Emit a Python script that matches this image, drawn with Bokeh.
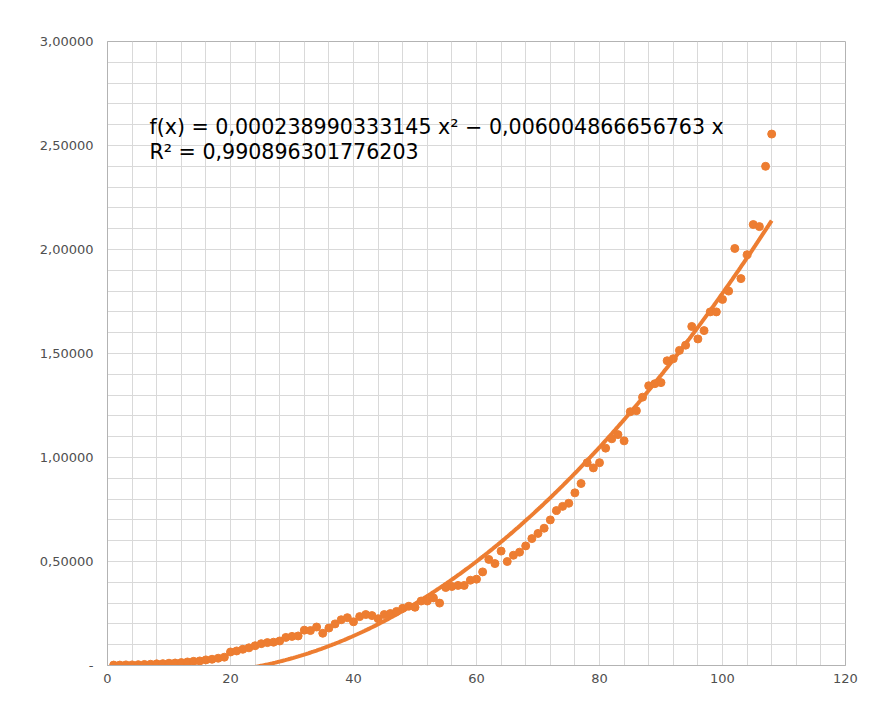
from bokeh.plotting import figure
from bokeh.models import FixedTicker, Range1d, Label, ColumnDataSource
from bokeh.embed import file_html
from bokeh.resources import INLINE
import numpy as np

# ---- data ----
x_vals = list(range(1, 109))
y_vals = [
    0.002, 0.002, 0.003, 0.003, 0.004, 0.005, 0.006, 0.008, 0.009, 0.011,   # 1-10
    0.012, 0.014, 0.017, 0.020, 0.022, 0.027, 0.030, 0.035, 0.040, 0.065,   # 11-20
    0.070, 0.078, 0.085, 0.095, 0.105, 0.110, 0.112, 0.118, 0.135, 0.140,   # 21-30
    0.142, 0.170, 0.168, 0.185, 0.155, 0.180, 0.200, 0.220, 0.230, 0.210,   # 31-40
    0.235, 0.245, 0.240, 0.225, 0.245, 0.250, 0.260, 0.275, 0.285, 0.280,   # 41-50
    0.310, 0.310, 0.325, 0.300, 0.375, 0.380, 0.385, 0.385, 0.410, 0.415,   # 51-60
    0.450, 0.510, 0.490, 0.550, 0.500, 0.530, 0.545, 0.575, 0.610, 0.635,   # 61-70
    0.660, 0.700, 0.745, 0.765, 0.780, 0.830, 0.875, 0.975, 0.950, 0.975,   # 71-80
    1.045, 1.090, 1.110, 1.080, 1.220, 1.225, 1.290, 1.345, 1.355, 1.360,   # 81-90
    1.465, 1.475, 1.515, 1.540, 1.630, 1.570, 1.610, 1.700, 1.700, 1.760,   # 91-100
    1.800, 2.005, 1.860, 1.975, 2.120, 2.110, 2.400, 2.555,                 # 101-108
]

# trend line as stated on the chart: f(x) = a x^2 + b x
trend_a = 0.000238990333145
trend_b = -0.006004866656763
trend_text = "f(x) = 0,000238990333145 x\u00b2 \u2212 0,006004866656763 x"
r2_text = "R\u00b2 = 0,990896301776203"

x_ticks = [0, 20, 40, 60, 80, 100, 120]
y_ticks = [0, 0.5, 1.0, 1.5, 2.0, 2.5, 3.0]
y_tick_labels = ["-", "0,50000", "1,00000", "1,50000", "2,00000", "2,50000", "3,00000"]

ORANGE = "#ed7d31"
GRID = "#d9d9d9"
TEXT = "#4f4f4f"
FONT = "DejaVu Sans"

p = figure(width=858, height=685, output_backend="svg", toolbar_location=None,
           x_range=Range1d(0, 120), y_range=Range1d(0, 3.0),
           min_border_left=107, min_border_right=13, min_border_top=41, min_border_bottom=19)
p.background_fill_color = "white"
p.border_fill_color = "white"
p.outline_line_color = "#b3b3b3"
p.outline_line_width = 1

x_minor = [float(v) for v in np.arange(0, 120.001, 4)]
y_minor = [round(float(v), 2) for v in np.arange(0, 3.0001, 0.1)]

p.xaxis.ticker = FixedTicker(ticks=x_ticks, minor_ticks=x_minor)
p.yaxis.ticker = FixedTicker(ticks=y_ticks, minor_ticks=y_minor)
p.yaxis.major_label_overrides = {t: l for t, l in zip(y_ticks, y_tick_labels)}

for ax in (p.xaxis[0], p.yaxis[0]):
    ax.axis_line_color = "#b3b3b3"
    ax.major_tick_line_color = None
    ax.minor_tick_line_color = None
    ax.major_label_text_font = FONT
    ax.major_label_text_font_size = "13px"
    ax.major_label_text_color = TEXT
p.yaxis.major_label_standoff = 8
p.xaxis.major_label_standoff = 2

for g in (p.xgrid[0], p.ygrid[0]):
    g.grid_line_color = GRID
    g.minor_grid_line_color = GRID
    g.grid_line_width = 1
    g.minor_grid_line_width = 1

# trend line over the data range (clipped by axis at 0)
tx = np.linspace(min(x_vals), max(x_vals), 400)
ty = trend_a * tx ** 2 + trend_b * tx
p.line(tx, ty, line_color=ORANGE, line_width=4)

src = ColumnDataSource(dict(x=x_vals, y=y_vals))
p.scatter("x", "y", source=src, size=8, marker="circle",
          fill_color=ORANGE, line_color=ORANGE)

p.add_layout(Label(x=6.83, y=2.587, text=trend_text, text_font=FONT,
                   text_font_size="20.6px", text_color="black", text_baseline="alphabetic"))
p.add_layout(Label(x=6.83, y=2.469, text=r2_text, text_font=FONT,
                   text_font_size="20.6px", text_color="black", text_baseline="alphabetic"))

open("out.html", "w").write(file_html(p, INLINE))
